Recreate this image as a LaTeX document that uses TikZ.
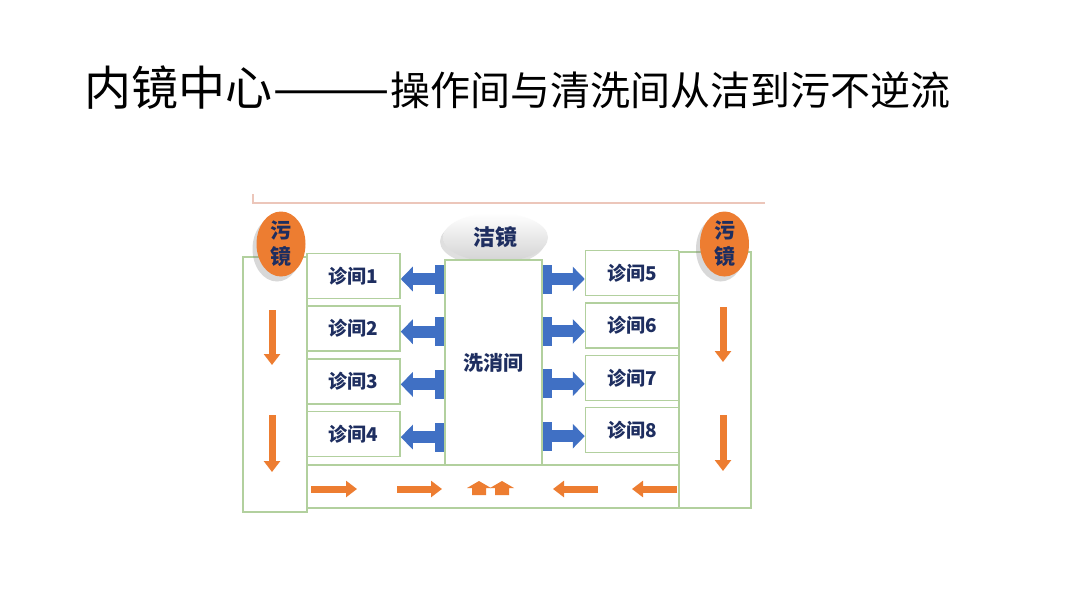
\documentclass[tikz,border=0pt]{standalone}
\usepackage{fontspec}
\setmainfont{Noto Sans CJK SC}
\usepackage{graphicx}
\usepackage{tikz}
\usetikzlibrary{arrows.meta,positioning,calc,shapes.geometric,shadows}
\definecolor{wallgreen}{RGB}{178,208,158}
\definecolor{dirtyorange}{RGB}{237,125,49}
\definecolor{cleanblue}{RGB}{64,112,196}
\definecolor{labelnavy}{RGB}{30,46,96}
\definecolor{headerpink}{RGB}{236,198,186}

\begin{document}
\begin{tikzpicture}[x=1pt,y=-1pt,
  wall/.style={draw=wallgreen,line width=1.5pt},
  room/.style={wall,fill=white,minimum width=93pt,minimum height=45pt,inner sep=0pt,
    text=labelnavy,font=\fontsize{19}{22}\selectfont\bfseries},
  supply/.style={cleanblue,line width=12pt,
    {Rectangle[length=9pt,width=29pt]}-{Triangle[length=12pt,width=24pt]}},
  flow/.style={dirtyorange,line width=7pt,-{Triangle[length=11pt,width=16pt]}},
  dirtybin/.style={ellipse,fill=dirtyorange,minimum width=49pt,minimum height=65pt,
    inner sep=0pt,align=center,text=labelnavy,font=\fontsize{21}{26}\selectfont\bfseries,
    drop shadow={shadow xshift=-4pt,shadow yshift=-5pt,opacity=.3}}]
\useasboundingbox (0,0) rectangle (1080,608);
\fill[white] (0,0) rectangle (1080,608);
% title
\node[anchor=base west,inner sep=0pt,font=\fontsize{47}{50}\selectfont] (titlemain) at (84,105) {内镜中心\scalebox{1.5}[1]{——}};
\node[anchor=base west,inner sep=0pt,font=\fontsize{40}{44}\selectfont] (titlesub) at (titlemain.base east) {操作间与清洗间从洁到污不逆流};
% header rule
\draw[headerpink,line width=1.5pt] (253,194) -- (253,203) -- (765,203);
% corridors
\draw[wall] (243,257) rectangle (307,512);
\draw[wall] (679,252) rectangle (751,508);
\draw[wall] (307,465) rectangle (679,508);
% clean scope
\node[ellipse,top color=white,bottom color=gray!35,minimum width=105pt,minimum height=49pt,
  text=labelnavy,font=\fontsize{22}{24}\selectfont\bfseries,
  drop shadow={shadow xshift=-3pt,shadow yshift=-4pt,opacity=.25}] (cleanscope) at (495.5,237.5) {洁镜};
% wash room and clinic rooms
\node[wall,fill=white,minimum width=97pt,minimum height=205pt,inner sep=0pt,
  text=labelnavy,font=\fontsize{20}{22}\selectfont\bfseries] (wash) at (493.5,362.5) {洗消间};
\foreach \i [evaluate=\i as \yc using 276+(\i-1)*52.7] in {1,...,4}
  \node[room] (l\i) at (353.5,\yc) {诊间\i};
\foreach \i [evaluate=\i as \yc using 273+(\i-5)*52.4] in {5,...,8}
  \node[room] (r\i) at (632,\yc) {诊间\i};
% clean supply
\foreach \i in {1,...,4}
  \draw[supply] ($(wash.west |- l\i.east)+(0,3)$) -- ($(l\i.east)+(0,3)$);
\foreach \i in {5,...,8}
  \draw[supply] ($(wash.east |- r\i.west)+(0,6)$) -- ($(r\i.west)+(0,6)$);
% dirty scope bins
\node[dirtybin] (dirtyleft) at (281,244) {污\\镜};
\node[dirtybin] (dirtyright) at (724.5,244) {污\\镜};
% dirty flow
\draw[flow] (272,310) -- (272,365);
\draw[flow] (272,415) -- (272,472);
\draw[flow] (723,307) -- (723,362);
\draw[flow] (723,415) -- (723,471);
\draw[flow] (311,489) -- (357,489);
\draw[flow] (397,489) -- (442,489);
\draw[flow] (598,489) -- (553,489);
\draw[flow] (677,489) -- (632,489);
\foreach \ux in {479,502}
  \fill[dirtyorange] (\ux-7,495) -- (\ux-7,488) -- (\ux-12,488) -- (\ux,481)
    -- (\ux+12,488) -- (\ux+7,488) -- (\ux+7,495) -- cycle;
\end{tikzpicture}
\end{document}
